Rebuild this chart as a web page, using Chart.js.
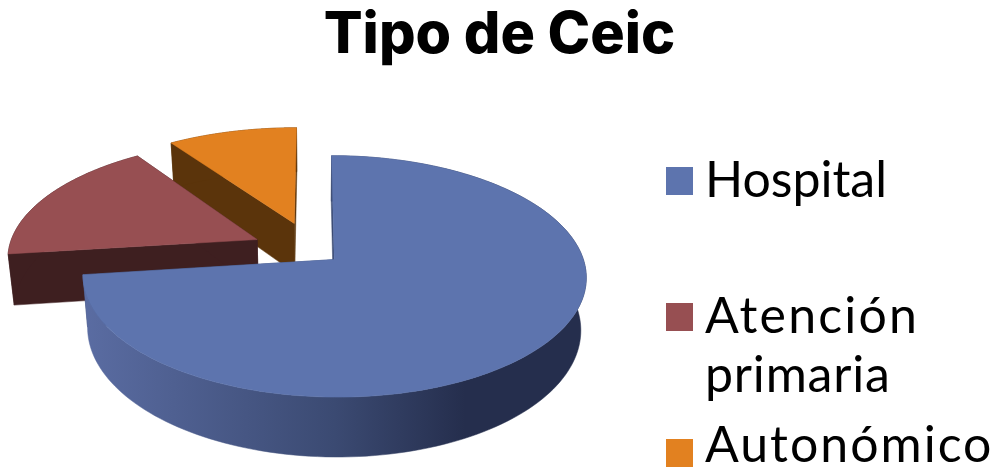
<!DOCTYPE html>
<html><head><meta charset="utf-8">
<style>html,body{margin:0;padding:0;background:#fff}canvas{display:block}</style>
<script src="https://cdn.jsdelivr.net/npm/chart.js@4"></script>
</head><body><canvas id="c" width="999" height="473"></canvas>
<script>
const titleText = 'Tipo de Ceic';
const categories = ['Hospital', 'Atención primaria', 'Autonómico'];
const shares = [73, 17.4, 9.6];
const colors = ['#5d74ae', '#974f52', '#e28120'];
const wallColors = ['#3b4a72', '#3e1f20', '#5b340b'];
const explode = [28, 62, 65];
const widthScale = [0.975, 0.985, 1];

const squash = 0.4585, persp = 0.138, depth = 51, shrink = 0.98;

function project(arc, u, v) {
  const f = 1 / (1 - persp * v), R = arc.outerRadius;
  return {x: arc.x + R * u * f, y: arc.y + R * squash * v * f, f};
}
function lower(arc, p) {
  return {x: arc.x + (p.x - arc.x) * shrink, y: arc.y + (p.y - arc.y) * shrink + depth * Math.pow(p.f, 1.3)};
}
function poly(ctx, pts, fill) {
  ctx.beginPath();
  pts.forEach((p, i) => i ? ctx.lineTo(p.x, p.y) : ctx.moveTo(p.x, p.y));
  ctx.closePath();
  ctx.fillStyle = fill; ctx.strokeStyle = fill; ctx.lineWidth = 0.5;
  ctx.fill(); ctx.stroke();
}
function drawSlice(ctx, chart, arc, i) {
  const R = arc.outerRadius, mid = (arc.startAngle + arc.endAngle) / 2;
  const off = arc.options.offset / R;
  const cu = Math.cos(mid) * off, cv = Math.sin(mid) * off;
  const apex = project(arc, cu, cv), rim = [];
  const n = 160;
  for (let k = 0; k <= n; k++) {
    const a = arc.startAngle + (arc.endAngle - arc.startAngle) * k / n;
    rim.push(project(arc, cu + Math.cos(a) * widthScale[i], cv + Math.sin(a)));
  }
  const wall = wallColors[i];
  poly(ctx, [apex, rim[0], lower(arc, rim[0]), lower(arc, apex)], wall);
  poly(ctx, [apex, rim[n], lower(arc, rim[n]), lower(arc, apex)], wall);
  let outer = wall;
  if (i === 0) {
    outer = ctx.createLinearGradient(85, 0, 585, 0);
    outer.addColorStop(0, '#5a6ca2');
    outer.addColorStop(0.5, '#3b4a72');
    outer.addColorStop(0.76, '#252e4d');
    outer.addColorStop(1, '#252e4d');
  }
  poly(ctx, rim.concat(rim.map(p => lower(arc, p)).reverse()), outer);
  poly(ctx, [apex].concat(rim), colors[i]);
}
const pie3d = {
  id: 'pie3d',
  beforeDatasetDraw(chart, args) {
    const ctx = chart.ctx, arcs = args.meta.data;
    ctx.save();
    for (let i = arcs.length - 1; i >= 0; i--) drawSlice(ctx, chart, arcs[i], i);
    ctx.restore();
    return false;
  }
};
const legendLines = [['Hospital'], ['Atención', 'primaria'], ['Autonómico']];
const legendSpacing = [[0], [2.2, 0.8], [2]];
const legendBoxTop = [167, 303, 439];
const legendBaselines = [[197], [333, 392], [462]];
const sideLegend = {
  id: 'sideLegend',
  afterDraw(chart) {
    const ctx = chart.ctx;
    ctx.save();
    ctx.font = '50px Lato, sans-serif';
    ctx.textBaseline = 'alphabetic';
    legendLines.forEach((lines, i) => {
      ctx.fillStyle = colors[i];
      ctx.fillRect(666, legendBoxTop[i], 27, 28);
      ctx.fillStyle = '#000';
      lines.forEach((t, j) => {
        ctx.letterSpacing = legendSpacing[i][j] + 'px';
        ctx.fillText(t, 705, legendBaselines[i][j]);
      });
    });
    ctx.restore();
  }
};
const titleFullWidth = {
  id: 'titleFullWidth',
  beforeDraw(chart) {
    chart.titleBlock.left = 0;
    chart.titleBlock.right = chart.width;
    chart.titleBlock.width = chart.width;
  }
};
new Chart(document.getElementById('c'), {
  type: 'pie',
  data: {labels: categories, datasets: [{data: shares, backgroundColor: colors, offset: explode, borderWidth: 0, radius: 253}]},
  plugins: [titleFullWidth, pie3d, sideLegend],
  options: {
    responsive: false, animation: false, events: [],
    layout: {padding: {left: 0, right: 373, top: 0, bottom: 41}},
    plugins: {
      legend: {display: false}, tooltip: {enabled: false},
      title: {display: true, text: titleText, color: '#000', font: {family: 'Inter, sans-serif', size: 57.5, weight: '800', lineHeight: 1.2}, padding: {top: 1, bottom: 0}}
    }
  }
});
</script></body></html>
